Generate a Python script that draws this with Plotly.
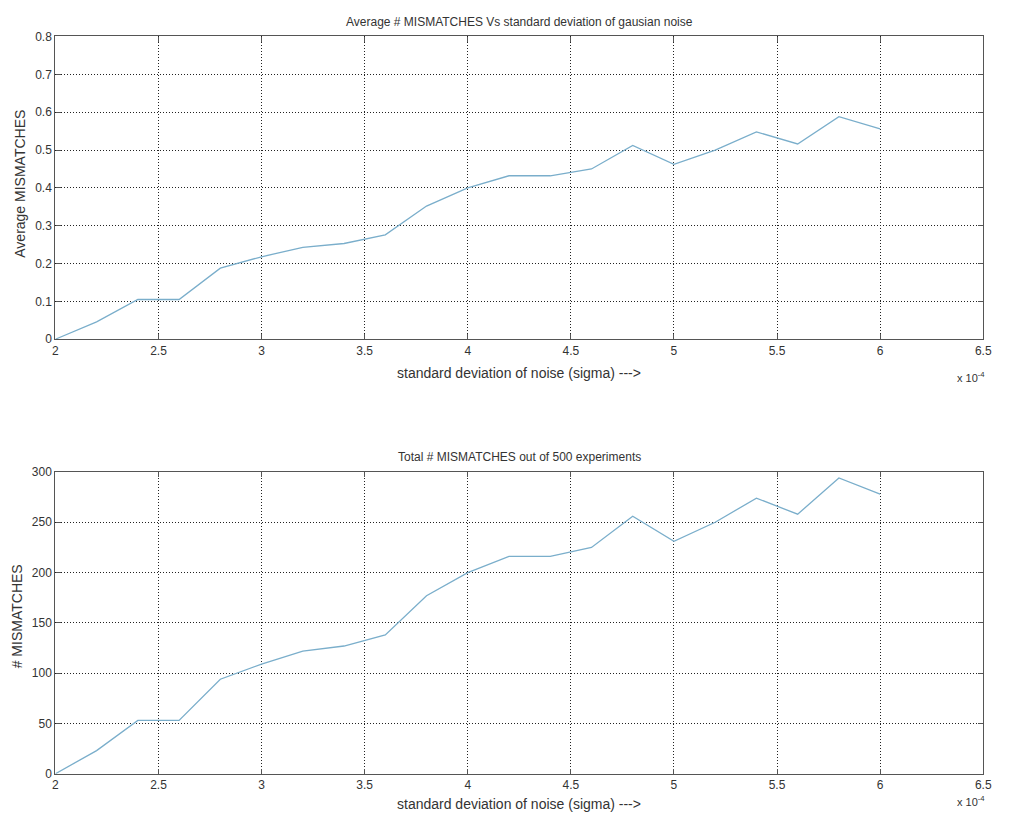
import plotly.graph_objects as go

# sigma in units of 1e-4
sigma = [2.0, 2.2, 2.4, 2.6, 2.8, 3.0, 3.2, 3.4, 3.6, 3.8, 4.0,
         4.2, 4.4, 4.6, 4.8, 5.0, 5.2, 5.4, 5.6, 5.8, 6.0]
avg_mismatch = [0.0, 0.046, 0.105, 0.105, 0.188, 0.218, 0.243, 0.253, 0.276, 0.352, 0.400,
                0.432, 0.432, 0.450, 0.512, 0.462, 0.500, 0.548, 0.516, 0.588, 0.556]
total_mismatch = [0, 23, 53, 53, 94, 109, 122, 127, 138, 177, 200,
                  216, 216, 225, 256, 231, 250, 274, 258, 294, 278]

x_ticks = [2, 2.5, 3, 3.5, 4, 4.5, 5, 5.5, 6, 6.5]
x_ticklabels = ["2", "2.5", "3", "3.5", "4", "4.5", "5", "5.5", "6", "6.5"]
y1_ticks = [0, 0.1, 0.2, 0.3, 0.4, 0.5, 0.6, 0.7, 0.8]
y1_ticklabels = ["0", "0.1", "0.2", "0.3", "0.4", "0.5", "0.6", "0.7", "0.8"]
y2_ticks = [0, 50, 100, 150, 200, 250, 300]

line_color = "#7aaecb"
font_family = "Liberation Sans, Arial, sans-serif"
text_color = "#333333"

fig = go.Figure()
fig.add_trace(go.Scatter(x=sigma, y=avg_mismatch, mode="lines",
                         line=dict(color=line_color, width=1.3),
                         xaxis="x", yaxis="y", showlegend=False))
fig.add_trace(go.Scatter(x=sigma, y=total_mismatch, mode="lines",
                         line=dict(color=line_color, width=1.3),
                         xaxis="x2", yaxis="y2", showlegend=False))

W, H = 1012, 825
xdom = [53 / W, 992 / W]
y1dom = [1 - 338 / H, 1 - 30 / H]
y2dom = [1 - 780 / H, 1 - 473 / H]

axis_common = dict(
    showline=True, linecolor="#555555", linewidth=1.3, mirror="allticks",
    ticks="inside", ticklen=5, tickcolor="#555555",
    showgrid=True, gridcolor="#222222", griddash="1px,2px", gridwidth=1,
    zeroline=False, tickfont=dict(size=12, color=text_color, family=font_family),
)

fig.update_layout(
    width=W, height=H,
    margin=dict(l=0, r=0, t=0, b=0),
    paper_bgcolor="white", plot_bgcolor="white",
    font=dict(family=font_family, color=text_color),
    xaxis=dict(domain=xdom, anchor="y", range=[2, 6.5], tickvals=x_ticks,
               ticktext=x_ticklabels, **axis_common),
    yaxis=dict(domain=y1dom, anchor="x", range=[0, 0.8], tickvals=y1_ticks,
               ticktext=y1_ticklabels, **axis_common),
    xaxis2=dict(domain=xdom, anchor="y2", range=[2, 6.5], tickvals=x_ticks,
                ticktext=x_ticklabels, **axis_common),
    yaxis2=dict(domain=y2dom, anchor="x2", range=[0, 300], tickvals=y2_ticks,
                **axis_common),
)

xc = (xdom[0] + xdom[1]) / 2
xt_font = dict(size=14, color=text_color, family=font_family)
yt_font = dict(size=14, color=text_color, family=font_family)
title_font = dict(size=12, color=text_color, family=font_family)
exp_font = dict(size=11, color=text_color, family=font_family)

annotations = [
    # titles
    dict(text="Average # MISMATCHES Vs standard deviation of gausian noise",
         x=xc, y=1 - 15 / H, font=title_font),
    dict(text="Total # MISMATCHES out of 500 experiments",
         x=xc, y=1 - 458 / H, font=title_font),
    # x axis titles
    dict(text="standard deviation of noise (sigma) --->",
         x=xc, y=1 - 372 / H, font=xt_font),
    dict(text="standard deviation of noise (sigma) --->",
         x=xc, y=1 - 811 / H, font=xt_font),
    # exponent labels
    dict(text="x 10<sup>-4</sup>", x=980 / W, y=1 - 376 / H, font=exp_font),
    dict(text="x 10<sup>-4</sup>", x=980 / W, y=1 - 808 / H, font=exp_font),
    # y axis titles
    dict(text="Average MISMATCHES", x=17 / W, y=1 - 180 / H, textangle=-90, font=yt_font),
    dict(text="# MISMATCHES", x=15 / W, y=1 - 620 / H, textangle=-90, font=yt_font),
]
for a in annotations:
    a.update(xref="paper", yref="paper", showarrow=False, xanchor="center", yanchor="middle")
fig.update_layout(annotations=annotations)

fig.write_html("out.html")
